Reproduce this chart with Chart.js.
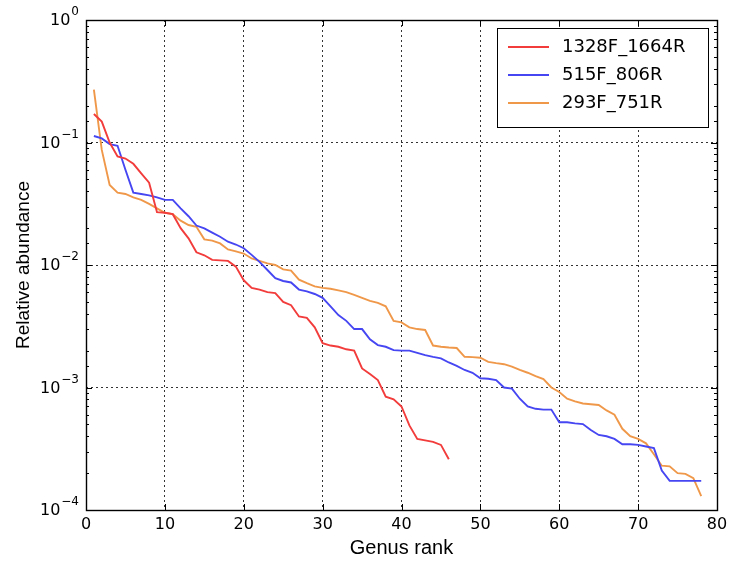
<!DOCTYPE html>
<html>
<head>
<meta charset="utf-8">
<script src="https://cdn.jsdelivr.net/npm/chart.js@4.4.1/dist/chart.umd.min.js"></script>
<style>
  html, body { margin: 0; padding: 0; background: #fff; }
  #wrap { width: 741px; height: 563px; }
</style>
</head>
<body>
<div id="wrap"><canvas id="myChart" width="741" height="563"></canvas></div>
<script>
// relative abundance per genus rank (rank = index + 1)
const seriesNames = ["1328F_1664R", "515F_806R", "293F_751R"];
const seriesColors = ["#f23c3c", "#4646f2", "#f0984a"];

const abund1328 = [0.171, 0.148, 0.100, 0.077, 0.074, 0.067, 0.056, 0.047, 0.027, 0.0267,
    0.026, 0.020, 0.0165, 0.0127, 0.012, 0.011, 0.0109, 0.0108, 0.0097, 0.0075,
    0.0065, 0.0063, 0.0060, 0.0059, 0.0050, 0.0047, 0.0038, 0.0037, 0.0031, 0.0023,
    0.0022, 0.00215, 0.00205, 0.0020, 0.00143, 0.00129, 0.00115, 0.00084, 0.00080, 0.00070,
    0.00049, 0.00038, 0.00037, 0.00036, 0.00034, 0.00026];

const abund515 = [0.113, 0.108, 0.097, 0.094, 0.060, 0.039, 0.038, 0.037, 0.0357, 0.034,
    0.034, 0.029, 0.025, 0.021, 0.0199, 0.0184, 0.017, 0.0155, 0.0147, 0.0137,
    0.0121, 0.0106, 0.0091, 0.0078, 0.0074, 0.0072, 0.0063, 0.0061, 0.0058, 0.0054,
    0.0046, 0.0039, 0.0035, 0.0030, 0.0030, 0.00247, 0.00222, 0.00215, 0.00202, 0.0020,
    0.0020, 0.00192, 0.00184, 0.00178, 0.00173, 0.0016, 0.0015, 0.00139, 0.00132, 0.00119,
    0.00118, 0.00115, 0.0010, 0.00098, 0.00081, 0.00070, 0.00067, 0.00066, 0.00066, 0.00052,
    0.00052, 0.00051, 0.000503, 0.00045, 0.00041, 0.00040, 0.00038, 0.000344, 0.000344, 0.00034,
    0.00033, 0.00032, 0.00021, 0.000173, 0.000173, 0.000173, 0.000173, 0.000173];

const abund293 = [0.27, 0.087, 0.045, 0.039, 0.038, 0.0356, 0.034, 0.0315, 0.029, 0.0267,
    0.026, 0.023, 0.0212, 0.0205, 0.0162, 0.0158, 0.015, 0.0134, 0.0129, 0.0124,
    0.0113, 0.0108, 0.0103, 0.0100, 0.0092, 0.0090, 0.0076, 0.0071, 0.0067, 0.0065,
    0.0064, 0.0062, 0.0060, 0.0057, 0.0054, 0.0051, 0.0049, 0.0046, 0.0035, 0.0034,
    0.0031, 0.0030, 0.00295, 0.0022, 0.00215, 0.00212, 0.0021, 0.00178, 0.00177, 0.00175,
    0.00162, 0.00158, 0.00155, 0.00148, 0.00139, 0.00132, 0.00124, 0.00117, 0.0010, 0.00092,
    0.00081, 0.00077, 0.00074, 0.00073, 0.00072, 0.00065, 0.00060, 0.00046, 0.00040, 0.00038,
    0.00035, 0.000285, 0.00023, 0.000227, 0.00020, 0.000197, 0.000182, 0.00013];

const xTicks = [0, 10, 20, 30, 40, 50, 60, 70, 80];
// y tick labels drawn as "10" + superscript exponent
const yTickExponents = [0, -1, -2, -3, -4];

function isDecade(v) {
    const e = Math.log10(v);
    return Math.abs(e - Math.round(e)) < 1e-6;
}

function toPoints(arr) {
    return arr.map((v, i) => ({ x: i + 1, y: v }));
}

// matplotlib-ish frame, inward ticks, exponent labels and boxed legend
const framePlugin = {
    id: 'frame',
    afterDraw(chart) {
        const ctx = chart.ctx;
        const a = chart.chartArea;
        const xs = chart.scales.x, ys = chart.scales.y;
        ctx.save();
        ctx.strokeStyle = '#000';
        ctx.lineWidth = 1;
        ctx.beginPath();
        xs.ticks.forEach(t => {
            const px = Math.round(xs.getPixelForValue(t.value)) + 0.5;
            ctx.moveTo(px, a.bottom); ctx.lineTo(px, a.bottom - 6);
            ctx.moveTo(px, a.top); ctx.lineTo(px, a.top + 6);
        });
        ys.ticks.forEach(t => {
            const py = Math.round(ys.getPixelForValue(t.value)) + 0.5;
            const len = isDecade(t.value) ? 6 : 3;
            ctx.moveTo(a.left, py); ctx.lineTo(a.left + len, py);
            ctx.moveTo(a.right, py); ctx.lineTo(a.right - len, py);
        });
        ctx.stroke();
        ctx.lineWidth = 1.4;
        ctx.strokeRect(Math.round(a.left) + 0.5, Math.round(a.top) + 0.5,
            Math.round(a.right - a.left), Math.round(a.bottom - a.top));

        // y labels: 10^n (mathtext style minus)
        ctx.fillStyle = '#000';
        ctx.textBaseline = 'middle';
        ctx.textAlign = 'right';
        yTickExponents.forEach(e => {
            const py = ys.getPixelForValue(Math.pow(10, e));
            const sup = e < 0 ? '\u2212' + Math.abs(e) : String(e);
            ctx.font = '12px "DejaVu Sans"';
            const ew = ctx.measureText(sup).width;
            const right = a.left - 7;
            ctx.fillText(sup, right, py - 8);
            ctx.font = '16px "DejaVu Sans"';
            ctx.fillText('10', right - ew - 1, py + 1);
        });

        // legend box
        const lx = 497, ly = 28, lw = 211, lh = 99;
        ctx.textAlign = 'left';
        ctx.fillStyle = '#fff';
        ctx.fillRect(lx, ly, lw, lh);
        ctx.strokeStyle = '#000';
        ctx.lineWidth = 1;
        ctx.strokeRect(lx + 0.5, ly + 0.5, lw, lh);
        ctx.font = '18px "DejaVu Sans"';
        chart.data.datasets.forEach((ds, i) => {
            const y = ly + 19 + i * 28;
            ctx.strokeStyle = ds.borderColor;
            ctx.lineWidth = 1.8;
            ctx.beginPath();
            ctx.moveTo(lx + 11, y);
            ctx.lineTo(lx + 52, y);
            ctx.stroke();
            ctx.fillStyle = '#000';
            ctx.fillText(ds.label, lx + 65, y);
        });
        ctx.restore();
    }
};

const gridColor = c => (c.tick && isDecade(c.tick.value)) ? '#333' : 'rgba(0,0,0,0)';

const ctx = document.getElementById('myChart').getContext('2d');
const chart = new Chart(ctx, {
    type: 'line',
    data: {
        datasets: [abund1328, abund515, abund293].map((arr, i) => ({
            label: seriesNames[i],
            data: toPoints(arr),
            borderColor: seriesColors[i],
            borderWidth: 1.9,
            pointRadius: 0,
            tension: 0,
            fill: false
        }))
    },
    options: {
        responsive: false,
        animation: false,
        devicePixelRatio: 1,
        layout: { padding: { top: 20, right: 24, left: 0, bottom: 0 } },
        plugins: {
            legend: { display: false },
            tooltip: { enabled: false }
        },
        scales: {
            x: {
                type: 'linear',
                min: 0,
                max: 80,
                afterFit(scale) { scale.height = 53; },
                afterBuildTicks(scale) { scale.ticks = xTicks.map(v => ({ value: v })); },
                grid: { color: c => (c.tick && c.tick.value > 0 && c.tick.value < 80) ? '#333' : 'rgba(0,0,0,0)', drawTicks: false, lineWidth: 1 },
                border: { display: false, dash: [2, 3] },
                ticks: { color: '#000', padding: 5, font: { family: 'DejaVu Sans', size: 16 } },
                title: { display: true, text: 'Genus rank', color: '#000', padding: { top: 0, bottom: 3 }, font: { family: 'Liberation Sans', size: 20 } }
            },
            y: {
                type: 'logarithmic',
                min: 1e-4,
                max: 1,
                afterFit(scale) { scale.width = 86; },
                grid: { color: gridColor, drawTicks: false, lineWidth: 1 },
                border: { display: false, dash: [2, 3] },
                ticks: {
                    autoSkip: false,
                    padding: 7,
                    font: { family: 'DejaVu Sans', size: 16 },
                    callback: () => ''
                },
                title: { display: true, text: 'Relative abundance', color: '#000', padding: { top: 12, bottom: 0 }, font: { family: 'Liberation Sans', size: 19 } }
            }
        }
    },
    plugins: [framePlugin]
});
</script>
</body>
</html>
